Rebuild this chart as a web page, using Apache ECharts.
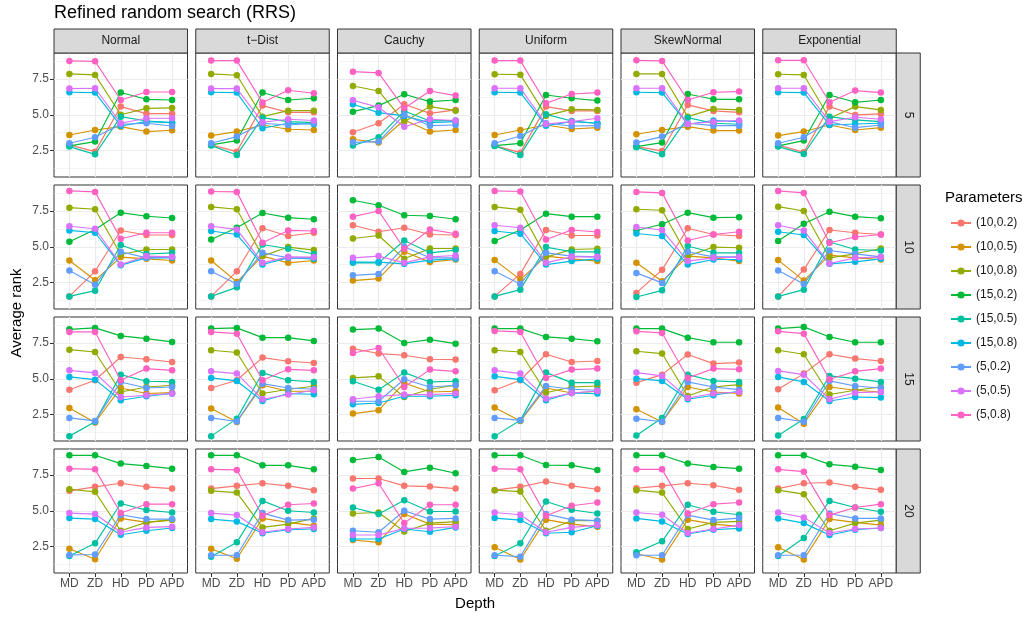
<!DOCTYPE html>
<html>
<head>
<meta charset="utf-8">
<script src="https://cdn.jsdelivr.net/npm/echarts@6/dist/echarts.min.js"></script>
<style>
  html, body { margin: 0; padding: 0; background: #ffffff; }
  #chart { width: 1031px; height: 617px; }
</style>
</head>
<body>
<div id="chart"></div>
<script>
// ---- data ---------------------------------------------------------------
const depths = ['MD', 'ZD', 'HD', 'PD', 'APD'];
const parameters = ['(10,0.2)', '(10,0.5)', '(10,0.8)', '(15,0.2)', '(15,0.5)', '(15,0.8)', '(5,0.2)', '(5,0.5)', '(5,0.8)'];
const distributions = ['Normal', 't\u2212Dist', 'Cauchy', 'Uniform', 'SkewNormal', 'Exponential'];
const budgets = ['5', '10', '15', '20'];
const yTicks = [2.5, 5.0, 7.5];
const yMinorTicks = [1.25, 3.75, 6.25, 8.75];

// each panel: one row per parameter setting (same order as `parameters`), values for MD, ZD, HD, PD, APD
const normal_5 = [
  [2.90, 2.43, 5.57, 5.08, 5.08], [3.59, 3.94, 4.17, 3.83, 3.92], [7.85, 7.78, 5.00, 5.45, 5.48],
  [2.83, 3.13, 6.55, 6.08, 6.03], [2.78, 2.24, 4.87, 4.57, 4.45], [6.57, 6.55, 4.22, 4.52, 4.45],
  [3.01, 3.43, 4.34, 4.41, 4.22], [6.83, 6.85, 4.41, 4.76, 4.76], [8.76, 8.73, 6.03, 6.59, 6.59]
];
const tdist_5 = [
  [2.90, 2.43, 5.64, 5.17, 5.17], [3.55, 3.83, 4.29, 3.99, 3.94], [7.85, 7.76, 4.87, 5.29, 5.29],
  [2.90, 3.20, 6.55, 6.03, 6.15], [2.85, 2.20, 4.80, 4.52, 4.45], [6.57, 6.55, 4.06, 4.41, 4.34],
  [3.01, 3.48, 4.41, 4.29, 4.41], [6.83, 6.83, 4.48, 4.69, 4.60], [8.78, 8.78, 5.85, 6.71, 6.50]
];
const cauchy_5 = [
  [3.78, 4.41, 5.73, 5.10, 5.34], [3.29, 3.06, 4.64, 3.83, 3.94], [7.01, 6.66, 4.52, 5.57, 5.29],
  [5.22, 5.64, 6.43, 5.92, 6.03], [2.85, 3.43, 5.27, 4.57, 4.60], [5.73, 5.15, 4.92, 4.45, 4.52],
  [3.08, 3.13, 5.00, 4.24, 4.29], [6.01, 5.52, 4.17, 4.69, 4.60], [8.01, 7.92, 5.45, 6.66, 6.34]
];
const uniform_5 = [
  [2.85, 2.36, 5.57, 5.27, 5.27], [3.59, 3.94, 4.29, 4.01, 4.10], [7.83, 7.80, 4.94, 5.38, 5.34],
  [2.85, 3.01, 6.38, 6.15, 5.99], [2.83, 2.20, 5.03, 4.57, 4.41], [6.57, 6.55, 4.24, 4.52, 4.41],
  [3.01, 3.52, 4.41, 4.22, 4.24], [6.85, 6.85, 4.36, 4.52, 4.76], [8.78, 8.78, 5.80, 6.45, 6.55]
];
const skewnormal_5 = [
  [2.78, 2.48, 5.69, 5.27, 5.17], [3.64, 3.94, 4.17, 3.90, 3.90], [7.85, 7.85, 4.87, 5.41, 5.34],
  [2.78, 3.06, 6.45, 6.08, 6.08], [2.73, 2.24, 4.80, 4.41, 4.34], [6.57, 6.55, 4.34, 4.60, 4.52],
  [3.06, 3.48, 4.41, 4.24, 4.24], [6.85, 6.85, 4.36, 4.52, 4.60], [8.80, 8.76, 6.03, 6.57, 6.62]
];
const exponential_5 = [
  [2.90, 2.38, 5.57, 4.99, 5.06], [3.55, 3.83, 4.29, 3.94, 4.10], [7.83, 7.78, 4.76, 5.57, 5.34],
  [2.83, 3.20, 6.38, 5.87, 6.03], [2.78, 2.27, 4.87, 4.64, 4.52], [6.57, 6.55, 4.29, 4.36, 4.41],
  [3.01, 3.43, 4.52, 4.10, 4.29], [6.85, 6.85, 4.52, 4.83, 4.69], [8.80, 8.80, 5.87, 6.69, 6.55]
];

const normal_10 = [
  [1.54, 3.29, 6.14, 5.82, 5.82], [4.04, 2.66, 4.28, 4.16, 4.04], [7.73, 7.62, 4.46, 4.81, 4.81],
  [5.35, 6.21, 7.38, 7.13, 7.01], [1.54, 1.94, 5.12, 4.50, 4.58], [6.14, 5.98, 3.72, 4.23, 4.23],
  [3.34, 2.36, 4.65, 4.23, 4.28], [6.43, 6.26, 3.76, 4.35, 4.30], [8.90, 8.83, 5.56, 5.98, 5.98]
];
const tdist_10 = [
  [1.54, 3.29, 6.29, 5.75, 5.98], [4.04, 2.55, 4.35, 3.88, 4.04], [7.78, 7.62, 4.35, 4.98, 4.77],
  [5.51, 6.33, 7.36, 7.03, 6.92], [1.54, 2.17, 5.16, 4.86, 4.50], [6.10, 5.86, 3.76, 4.23, 4.16],
  [3.29, 2.41, 4.58, 4.23, 4.23], [6.43, 6.21, 3.88, 4.30, 4.28], [8.86, 8.83, 5.28, 6.14, 6.10]
];
const cauchy_10 = [
  [6.50, 6.05, 6.33, 5.86, 5.82], [2.64, 2.78, 4.65, 3.93, 4.11], [5.58, 5.79, 4.16, 4.88, 4.88],
  [8.25, 7.90, 7.20, 7.15, 6.92], [3.88, 3.88, 5.44, 4.58, 4.77], [3.93, 3.93, 3.81, 4.07, 4.16],
  [3.01, 3.11, 5.00, 4.23, 4.23], [4.23, 4.35, 3.88, 4.30, 4.39], [7.10, 7.50, 4.86, 6.21, 5.91]
];
const uniform_10 = [
  [1.54, 3.11, 6.17, 5.79, 5.79], [4.07, 2.71, 4.35, 4.16, 4.00], [7.78, 7.59, 4.28, 4.81, 4.86],
  [5.40, 6.17, 7.31, 7.10, 7.10], [1.54, 2.01, 4.98, 4.65, 4.65], [6.10, 5.91, 3.76, 4.00, 4.16],
  [3.29, 2.41, 4.58, 4.35, 4.30], [6.50, 6.33, 3.88, 4.30, 4.30], [8.90, 8.86, 5.51, 6.17, 6.03]
];
const skewnormal_10 = [
  [1.78, 3.39, 6.29, 5.86, 5.75], [3.88, 2.59, 4.35, 4.23, 4.00], [7.62, 7.55, 4.35, 4.98, 4.93],
  [6.14, 6.57, 7.38, 7.03, 7.06], [1.50, 1.96, 5.05, 4.58, 4.58], [5.93, 5.75, 3.76, 4.11, 4.11],
  [3.18, 2.48, 4.65, 4.30, 4.30], [6.38, 6.17, 4.00, 4.23, 4.28], [8.83, 8.76, 5.44, 5.86, 6.05]
];
const exponential_10 = [
  [1.54, 3.41, 6.17, 5.98, 5.86], [4.07, 2.64, 4.42, 4.23, 4.11], [7.80, 7.50, 4.23, 4.51, 4.88],
  [5.40, 6.61, 7.45, 7.10, 6.99], [1.54, 2.01, 5.33, 4.81, 4.74], [6.05, 5.82, 3.81, 3.95, 4.16],
  [3.34, 2.41, 4.74, 4.51, 4.30], [6.50, 6.14, 3.83, 4.23, 4.28], [8.90, 8.76, 5.28, 5.68, 5.86]
];

const normal_15 = [
  [4.24, 4.90, 6.52, 6.36, 6.17], [2.97, 1.95, 4.36, 3.97, 4.03], [7.03, 6.87, 4.08, 4.43, 4.55],
  [8.45, 8.55, 7.99, 7.80, 7.57], [1.00, 2.00, 5.29, 4.83, 4.78], [5.13, 4.94, 3.50, 3.78, 3.97],
  [2.27, 2.06, 4.78, 4.36, 4.43], [5.59, 5.41, 3.73, 3.85, 3.97], [8.27, 8.27, 4.90, 5.71, 5.59]
];
const tdist_15 = [
  [4.36, 4.90, 6.48, 6.22, 6.10], [2.92, 1.99, 4.55, 4.13, 4.13], [6.99, 6.83, 3.97, 4.27, 4.48],
  [8.50, 8.55, 7.87, 7.87, 7.64], [1.00, 2.22, 5.41, 4.90, 4.78], [5.06, 4.85, 3.45, 3.97, 3.92],
  [2.27, 2.02, 4.66, 4.36, 4.27], [5.52, 5.36, 3.57, 3.90, 4.20], [8.27, 8.15, 4.90, 5.66, 5.59]
];
const cauchy_15 = [
  [7.10, 6.76, 6.64, 6.36, 6.34], [2.57, 2.80, 4.71, 4.08, 4.13], [5.06, 5.17, 3.73, 4.27, 4.55],
  [8.43, 8.50, 7.50, 7.73, 7.45], [4.83, 4.24, 5.43, 4.78, 4.83], [3.22, 3.31, 3.78, 3.78, 3.85],
  [3.43, 3.43, 4.97, 4.43, 4.55], [3.57, 3.78, 3.90, 3.90, 3.97], [6.80, 7.15, 4.43, 5.64, 5.52]
];
const uniform_15 = [
  [4.20, 4.90, 6.71, 6.17, 6.24], [2.99, 2.05, 4.36, 4.01, 4.13], [6.99, 6.87, 4.03, 4.43, 4.50],
  [8.50, 8.50, 7.92, 7.80, 7.62], [1.00, 2.10, 5.43, 4.73, 4.73], [5.17, 4.94, 3.50, 4.01, 3.97],
  [2.27, 2.10, 4.50, 4.27, 4.20], [5.59, 5.36, 3.62, 4.01, 4.15], [8.34, 8.27, 5.06, 5.64, 5.71]
];
const skewnormal_15 = [
  [4.73, 5.29, 6.69, 6.06, 6.13], [2.87, 1.99, 4.43, 4.08, 3.97], [6.92, 6.76, 3.80, 4.43, 4.59],
  [8.50, 8.50, 7.87, 7.55, 7.55], [1.05, 2.27, 5.29, 4.85, 4.78], [5.01, 4.85, 3.57, 3.85, 4.13],
  [2.22, 2.00, 4.78, 4.43, 4.24], [5.43, 5.20, 3.66, 3.97, 4.08], [8.31, 8.20, 5.06, 5.71, 5.66]
];
const exponential_15 = [
  [4.27, 5.36, 6.71, 6.41, 6.24], [2.99, 1.87, 4.43, 4.20, 4.08], [6.99, 6.71, 3.90, 4.20, 4.43],
  [8.50, 8.62, 7.92, 7.55, 7.55], [1.05, 2.20, 5.20, 5.01, 4.78], [5.13, 4.78, 3.45, 3.73, 3.69],
  [2.27, 2.00, 4.85, 4.50, 4.36], [5.55, 5.29, 3.57, 4.03, 4.08], [8.31, 8.15, 4.97, 5.52, 5.71]
];

const normal_20 = [
  [6.39, 6.67, 6.92, 6.67, 6.55], [2.35, 1.62, 4.47, 4.19, 4.35], [6.50, 6.32, 3.61, 4.19, 4.38],
  [8.87, 8.87, 8.29, 8.13, 7.94], [1.85, 2.73, 5.51, 5.05, 4.88], [4.49, 4.42, 3.33, 3.61, 3.80],
  [1.92, 1.95, 4.72, 4.42, 4.42], [4.84, 4.77, 3.50, 3.84, 3.89], [7.94, 7.89, 4.84, 5.46, 5.46]
];
const tdist_20 = [
  [6.55, 6.74, 6.92, 6.74, 6.44], [2.35, 1.65, 4.47, 4.19, 3.96], [6.39, 6.27, 3.84, 4.07, 4.47],
  [8.87, 8.87, 8.17, 8.17, 7.89], [1.80, 2.80, 5.69, 5.00, 4.88], [4.42, 4.26, 3.43, 3.68, 3.73],
  [1.90, 1.90, 4.84, 4.35, 4.38], [4.84, 4.70, 3.50, 3.73, 3.84], [7.89, 7.85, 4.65, 5.42, 5.51]
];
const cauchy_20 = [
  [7.25, 7.25, 6.74, 6.69, 6.55], [2.96, 2.80, 4.77, 4.07, 4.03], [4.81, 4.88, 3.56, 4.14, 4.24],
  [8.54, 8.75, 7.71, 8.01, 7.62], [5.23, 4.77, 5.74, 4.95, 4.95], [3.03, 3.03, 3.73, 3.54, 3.84],
  [3.61, 3.50, 5.00, 4.42, 4.47], [3.31, 3.31, 3.77, 3.80, 3.89], [6.55, 6.92, 4.14, 5.42, 5.42]
];
const uniform_20 = [
  [6.44, 6.67, 7.04, 6.74, 6.50], [2.45, 1.60, 4.38, 4.07, 3.89], [6.44, 6.34, 3.61, 4.31, 4.31],
  [8.87, 8.87, 8.19, 8.17, 7.85], [1.85, 2.73, 5.65, 5.07, 4.81], [4.49, 4.35, 3.43, 3.50, 3.96],
  [1.90, 1.80, 4.77, 4.38, 4.31], [4.88, 4.72, 3.50, 3.84, 4.00], [7.94, 7.89, 4.65, 5.35, 5.58]
];
const skewnormal_20 = [
  [6.57, 6.74, 6.92, 6.78, 6.46], [2.00, 1.60, 4.38, 4.07, 3.91], [6.44, 6.27, 3.73, 4.19, 4.26],
  [8.87, 8.87, 8.29, 8.06, 7.94], [2.10, 2.87, 5.42, 4.93, 4.72], [4.47, 4.26, 3.38, 3.68, 3.77],
  [1.90, 1.90, 4.70, 4.35, 4.49], [4.88, 4.72, 3.45, 3.73, 4.00], [7.89, 7.89, 4.81, 5.46, 5.58]
];
const exponential_20 = [
  [6.55, 6.92, 6.97, 6.67, 6.46], [2.45, 1.60, 4.42, 4.19, 4.00], [6.44, 6.16, 3.61, 4.14, 4.35],
  [8.87, 8.87, 8.24, 8.08, 7.85], [1.85, 3.10, 5.69, 5.23, 4.93], [4.47, 4.14, 3.31, 3.68, 3.80],
  [1.90, 1.90, 4.81, 4.47, 4.47], [4.88, 4.54, 3.45, 3.73, 3.80], [7.89, 7.73, 4.70, 5.23, 5.46]
];

// rows = budget, columns = distribution
const panels = [
  [normal_5, tdist_5, cauchy_5, uniform_5, skewnormal_5, exponential_5],
  [normal_10, tdist_10, cauchy_10, uniform_10, skewnormal_10, exponential_10],
  [normal_15, tdist_15, cauchy_15, uniform_15, skewnormal_15, exponential_15],
  [normal_20, tdist_20, cauchy_20, uniform_20, skewnormal_20, exponential_20]
];

// ---- styling & layout ---------------------------------------------------
const palette = ['#F8766D', '#D39200', '#93AA00', '#00BA38', '#00C19F', '#00B9E3', '#619CFF', '#DB72FB', '#FF61C3'];
const FONT = '"Liberation Sans", Arial, Helvetica, sans-serif';
const PANEL_W = 133.5, PANEL_H = 124;
const COL_X0 = 54, COL_STEP = 141.75;
const ROW_Y0 = 53, ROW_STEP = 132;
const STRIP = 24;
const X_MIN = 0.4, X_MAX = 5.6;
const Y_MIN = 0.66, Y_MAX = 9.31;
const GRID_COLOR = '#EBEBEB';
const DARK = '#333333';

const grids = [], xAxes = [], yAxes = [], series = [], graphics = [];

panels.forEach((row, r) => {
  row.forEach((panel, c) => {
    const idx = r * 6 + c;
    const left = COL_X0 + c * COL_STEP;
    const top = ROW_Y0 + r * ROW_STEP;
    grids.push({
      left: left, top: top, width: PANEL_W, height: PANEL_H,
      show: true, backgroundColor: '#ffffff', borderColor: DARK, borderWidth: 1
    });
    xAxes.push({
      gridIndex: idx, type: 'value', min: X_MIN, max: X_MAX,
      axisLine: { show: false },
      splitLine: { show: false },
      axisTick: { show: r === 3, customValues: [1, 2, 3, 4, 5], length: 4, lineStyle: { color: DARK, width: 1 } },
      axisLabel: {
        show: r === 3, customValues: [1, 2, 3, 4, 5], margin: 5,
        formatter: v => depths[Math.round(v) - 1],
        color: '#4D4D4D', fontSize: 12, fontFamily: FONT
      }
    });
    yAxes.push({
      gridIndex: idx, type: 'value', min: Y_MIN, max: Y_MAX,
      axisLine: { show: false },
      splitLine: { show: false },
      axisTick: { show: c === 0, customValues: yTicks, length: 4, lineStyle: { color: DARK, width: 1 } },
      axisLabel: {
        show: c === 0, customValues: yTicks, margin: 5,
        formatter: v => v.toFixed(1),
        color: '#4D4D4D', fontSize: 12, fontFamily: FONT
      }
    });
    // background grid lines of the panel
    const lines = [];
    yMinorTicks.forEach(v => lines.push({ yAxis: v, lineStyle: { color: GRID_COLOR, width: 0.6, type: 'solid' } }));
    yTicks.forEach(v => lines.push({ yAxis: v, lineStyle: { color: GRID_COLOR, width: 1.2, type: 'solid' } }));
    depths.forEach((d, i) => lines.push({ xAxis: i + 1, lineStyle: { color: GRID_COLOR, width: 1.2, type: 'solid' } }));
    series.push({
      type: 'line', name: 'panel-grid', xAxisIndex: idx, yAxisIndex: idx,
      data: [], silent: true, z: 0, zlevel: 0, animation: false,
      markLine: { silent: true, z: 0, symbol: ['none', 'none'], label: { show: false }, animation: false, data: lines }
    });
    // one line per parameter setting
    panel.forEach((vals, p) => {
      series.push({
        type: 'line', name: parameters[p], xAxisIndex: idx, yAxisIndex: idx,
        data: vals.map((v, i) => [i + 1, v]),
        symbol: 'circle', symbolSize: 6.5, showSymbol: true,
        lineStyle: { color: palette[p], width: 1.15 },
        itemStyle: { color: palette[p] },
        z: 10 + p, animation: false, emphasis: { disabled: true }
      });
    });
  });
});

// facet strips: distributions on top
distributions.forEach((name, c) => {
  const left = COL_X0 + c * COL_STEP;
  graphics.push({
    type: 'rect', shape: { x: left, y: ROW_Y0 - STRIP, width: PANEL_W, height: STRIP },
    style: { fill: '#D9D9D9', stroke: DARK, lineWidth: 1 }, z: 30
  });
  graphics.push({
    type: 'text', x: left + PANEL_W / 2, y: ROW_Y0 - STRIP / 2,
    style: { text: name, fill: '#1A1A1A', fontSize: 12, fontFamily: FONT, align: 'center', verticalAlign: 'middle' }, z: 31
  });
});
// facet strips: budgets on the right
budgets.forEach((name, r) => {
  const x = COL_X0 + 5 * COL_STEP + PANEL_W;
  const top = ROW_Y0 + r * ROW_STEP;
  graphics.push({
    type: 'rect', shape: { x: x, y: top, width: STRIP, height: PANEL_H },
    style: { fill: '#D9D9D9', stroke: DARK, lineWidth: 1 }, z: 30
  });
  graphics.push({
    type: 'text', x: x + STRIP / 2, y: top + PANEL_H / 2, rotation: -Math.PI / 2,
    style: { text: name, fill: '#1A1A1A', fontSize: 12, fontFamily: FONT, align: 'center', verticalAlign: 'middle' }, z: 31
  });
});

// titles
const panelsRight = COL_X0 + 5 * COL_STEP + PANEL_W;
const panelsBottom = ROW_Y0 + 3 * ROW_STEP + PANEL_H;
graphics.push({
  type: 'text', x: COL_X0, y: 13,
  style: { text: 'Refined random search (RRS)', fill: '#000000', fontSize: 18, fontFamily: FONT, align: 'left', verticalAlign: 'middle' }
});
graphics.push({
  type: 'text', x: 17, y: (ROW_Y0 + panelsBottom) / 2, rotation: Math.PI / 2,
  style: { text: 'Average rank', fill: '#000000', fontSize: 15, fontFamily: FONT, align: 'center', verticalAlign: 'middle' }
});
graphics.push({
  type: 'text', x: (COL_X0 + panelsRight) / 2, y: 604,
  style: { text: 'Depth', fill: '#000000', fontSize: 15, fontFamily: FONT, align: 'center', verticalAlign: 'middle' }
});
graphics.push({
  type: 'text', x: 945, y: 198,
  style: { text: 'Parameters', fill: '#000000', fontSize: 15, fontFamily: FONT, align: 'left', verticalAlign: 'middle' }
});

const chart = echarts.init(document.getElementById('chart'), null, { renderer: 'canvas' });
chart.setOption({
  backgroundColor: '#ffffff',
  animation: false,
  grid: grids,
  xAxis: xAxes,
  yAxis: yAxes,
  series: series,
  graphic: graphics,
  legend: {
    data: parameters,
    orient: 'vertical',
    left: 945, top: 211,
    itemWidth: 20, itemHeight: 9, itemGap: 10,
    selectedMode: false,
    textStyle: { color: '#1A1A1A', fontSize: 12, fontFamily: FONT, lineHeight: 14 }
  },
  tooltip: { show: false }
});
</script>
</body>
</html>
